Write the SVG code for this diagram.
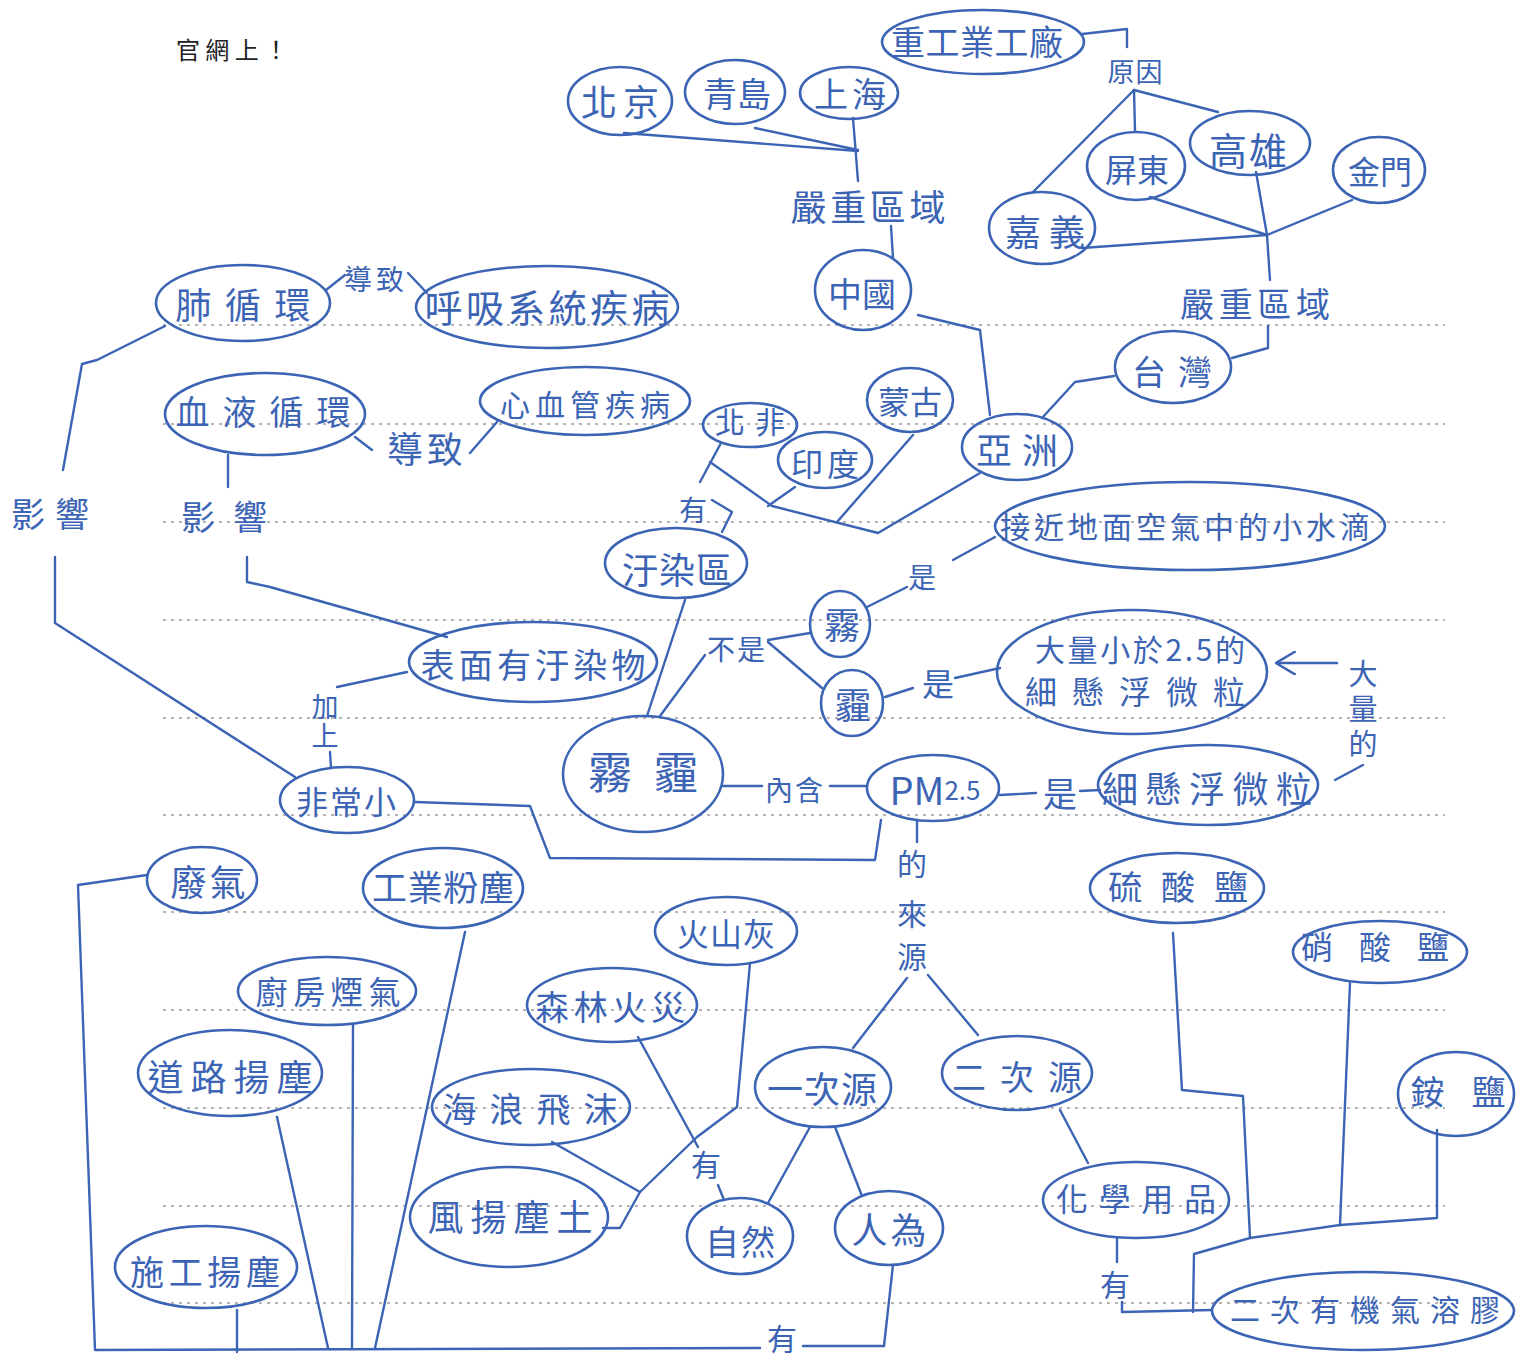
<svg xmlns="http://www.w3.org/2000/svg" width="1516" height="1362" viewBox="0 0 1516 1362">
<defs>
<style>
.n ellipse{fill:none;stroke:#3c64b4;stroke-width:2.6}
.t{font-family:"Noto Sans CJK TC","Noto Sans CJK SC",sans-serif;fill:#3c64b4;text-anchor:middle;dominant-baseline:central}
.v{writing-mode:vertical-rl}
.c path{fill:none;stroke:#3c64b4;stroke-width:2.4;stroke-linecap:round;stroke-linejoin:round}
.rule{stroke:#9c9c9c;stroke-width:1.5;stroke-dasharray:3 5}
</style>
<marker id="ah" viewBox="0 0 20 24" refX="20" refY="12" markerWidth="20" markerHeight="24" markerUnits="userSpaceOnUse" orient="auto">
<path d="M0,0 L20,12 L0,24" fill="none" stroke="#3c64b4" stroke-width="2.4"/>
</marker>
</defs>
<rect width="1516" height="1362" fill="#ffffff"/>
<g id="rules">
<line class="rule" x1="163" y1="325" x2="1445" y2="325"/>
<line class="rule" x1="163" y1="424" x2="1445" y2="424"/>
<line class="rule" x1="163" y1="522" x2="1445" y2="522"/>
<line class="rule" x1="163" y1="620" x2="1445" y2="620"/>
<line class="rule" x1="163" y1="718" x2="1445" y2="718"/>
<line class="rule" x1="163" y1="815" x2="1445" y2="815"/>
<line class="rule" x1="163" y1="912" x2="1445" y2="912"/>
<line class="rule" x1="163" y1="1010" x2="1445" y2="1010"/>
<line class="rule" x1="163" y1="1108" x2="1445" y2="1108"/>
<line class="rule" x1="163" y1="1206" x2="1445" y2="1206"/>
<line class="rule" x1="163" y1="1303" x2="1445" y2="1303"/>
</g>
<text x="232" y="48" style="font-family:'Noto Sans CJK TC','Noto Sans CJK SC',sans-serif;font-size:24px;fill:#222;text-anchor:middle;dominant-baseline:central" textLength="112">官網上！</text>
<g id="connectors" class="c">
<path d="M1082,34 L1127,29 L1127,47"/>
<path d="M1134,90 L1033,192"/>
<path d="M1134,90 L1135,131"/>
<path d="M1134,90 L1218,112"/>
<path d="M1256,172 L1267,235"/>
<path d="M1150,197 L1267,235"/>
<path d="M1082,248 L1267,235"/>
<path d="M1352,200 L1267,235"/>
<path d="M1267,235 L1270,280"/>
<path d="M1268,326 L1268,348 L1232,358"/>
<path d="M1114,376 L1075,382 L1042,418"/>
<path d="M918,315 L980,330 L990,415"/>
<path d="M891,226 L893,258"/>
<path d="M624,133 L858,151"/>
<path d="M755,128 L858,150"/>
<path d="M853,118 L858,181"/>
<path d="M980,473 L878,533 L772,506 L710,462"/>
<path d="M913,435 L837,522"/>
<path d="M795,487 L768,506"/>
<path d="M721,443 L700,482"/>
<path d="M712,500 L732,512 L722,532"/>
<path d="M685,600 L647,716"/>
<path d="M660,716 L705,655"/>
<path d="M768,640 L810,633"/>
<path d="M768,642 L822,688"/>
<path d="M867,607 L907,587"/>
<path d="M953,560 L995,537"/>
<path d="M885,697 L913,688"/>
<path d="M955,678 L1000,668"/>
<path d="M723,786 L762,786"/>
<path d="M830,786 L867,786"/>
<path d="M1000,795 L1036,793"/>
<path d="M1080,791 L1100,790"/>
<path d="M1335,780 L1363,765"/>
<path d="M1337,663 L1276,663" marker-end="url(#ah)"/>
<path d="M415,802 L530,806 L550,858 L875,860 L881,820"/>
<path d="M917,820 L917,842"/>
<path d="M907,978 L853,1048"/>
<path d="M928,975 L978,1035"/>
<path d="M810,1127 L768,1203"/>
<path d="M835,1127 L862,1196"/>
<path d="M718,1185 L724,1200"/>
<path d="M638,1037 L698,1147"/>
<path d="M750,963 L737,1107 L697,1137 L640,1192 L620,1228 L603,1228"/>
<path d="M552,1142 L640,1192"/>
<path d="M893,1265 L884,1346 L803,1346"/>
<path d="M760,1348 L95,1350 L78,885 L147,875"/>
<path d="M237,1310 L237,1352"/>
<path d="M277,1117 L328,1348"/>
<path d="M353,1025 L352,1347"/>
<path d="M465,932 L375,1348"/>
<path d="M1060,1110 L1088,1163"/>
<path d="M1117,1238 L1117,1262"/>
<path d="M1122,1302 L1122,1312 L1212,1310"/>
<path d="M1173,933 L1182,1090 L1243,1096 L1250,1238"/>
<path d="M1350,983 L1340,1225"/>
<path d="M1437,1130 L1437,1218 L1340,1225"/>
<path d="M1340,1225 L1250,1238 L1194,1254 L1193,1312"/>
<path d="M165,326 L97,360 L82,364 L63,470"/>
<path d="M55,557 L55,623 L295,777"/>
<path d="M326,290 L345,275"/>
<path d="M408,273 L427,293"/>
<path d="M355,437 L372,450"/>
<path d="M470,453 L497,422"/>
<path d="M228,455 L228,487"/>
<path d="M247,557 L247,582 L270,587 L447,637"/>
<path d="M407,672 L337,687"/>
<path d="M330,752 L331,768"/>
</g>
<g id="edge-labels">
<text class="t" x="1135" y="70" font-size="27" textLength="55">原因</text>
<text class="t" x="868" y="205" font-size="36" textLength="155">嚴重區域</text>
<text class="t" x="1255" y="302" font-size="34" textLength="150">嚴重區域</text>
<text class="t" x="374" y="278" font-size="28" textLength="60">導致</text>
<text class="t" x="425" y="447" font-size="36" textLength="76">導致</text>
<text class="t" x="50" y="512" font-size="34" textLength="78">影響</text>
<text class="t" x="224" y="515" font-size="34" textLength="86">影響</text>
<text class="t v" x="325" y="722" font-size="27" letter-spacing="2">加上</text>
<text class="t" x="693" y="509" font-size="28">有</text>
<text class="t" x="922" y="576" font-size="28">是</text>
<text class="t" x="736" y="648" font-size="28" textLength="58">不是</text>
<text class="t" x="938" y="682" font-size="32">是</text>
<text class="t" x="794" y="789" font-size="28" textLength="58">內含</text>
<text class="t" x="1060" y="792" font-size="34">是</text>
<text class="t v" x="1363" y="712" font-size="29" letter-spacing="6">大量的</text>
<text class="t" x="912" y="862" font-size="30">的</text>
<text class="t" x="912" y="912" font-size="30">來</text>
<text class="t" x="912" y="955" font-size="30">源</text>
<text class="t" x="706" y="1163" font-size="30">有</text>
<text class="t" x="782" y="1337" font-size="30">有</text>
<text class="t" x="1115" y="1283" font-size="30">有</text>
</g>
<g id="n-heavy-industry" class="n"><ellipse cx="983" cy="42" rx="101" ry="32"/><text class="t" x="977" y="40" font-size="34" textLength="172">重工業工廠</text></g>
<g id="n-beijing" class="n"><ellipse cx="620" cy="101" rx="52" ry="34"/><text class="t" x="620" y="100" font-size="36" textLength="78">北京</text></g>
<g id="n-qingdao" class="n"><ellipse cx="735" cy="92" rx="50" ry="32"/><text class="t" x="737" y="92" font-size="34" textLength="68">青島</text></g>
<g id="n-shanghai" class="n"><ellipse cx="849" cy="93" rx="49" ry="26"/><text class="t" x="850" y="92" font-size="34" textLength="72">上海</text></g>
<g id="n-china" class="n"><ellipse cx="863" cy="290" rx="48" ry="40"/><text class="t" x="862" y="292" font-size="34" textLength="68">中國</text></g>
<g id="n-pingtung" class="n"><ellipse cx="1136" cy="166" rx="49" ry="34"/><text class="t" x="1137" y="168" font-size="32" textLength="64">屏東</text></g>
<g id="n-kaohsiung" class="n"><ellipse cx="1250" cy="143" rx="60" ry="32"/><text class="t" x="1248" y="148" font-size="38" textLength="78">高雄</text></g>
<g id="n-kinmen" class="n"><ellipse cx="1379" cy="170" rx="46" ry="33"/><text class="t" x="1380" y="170" font-size="32" textLength="64">金門</text></g>
<g id="n-chiayi" class="n"><ellipse cx="1042" cy="228" rx="53" ry="36"/><text class="t" x="1045" y="230" font-size="36" textLength="80">嘉義</text></g>
<g id="n-taiwan" class="n"><ellipse cx="1173" cy="367" rx="58" ry="36"/><text class="t" x="1172" y="370" font-size="34" textLength="80">台灣</text></g>
<g id="n-asia" class="n"><ellipse cx="1017" cy="447" rx="55" ry="33"/><text class="t" x="1017" y="448" font-size="36" textLength="82">亞洲</text></g>
<g id="n-mongolia" class="n"><ellipse cx="910" cy="400" rx="43" ry="32"/><text class="t" x="910" y="400" font-size="32" textLength="64">蒙古</text></g>
<g id="n-north-africa" class="n"><ellipse cx="750" cy="425" rx="47" ry="22"/><text class="t" x="750" y="420" font-size="30" textLength="70">北非</text></g>
<g id="n-india" class="n"><ellipse cx="825" cy="460" rx="47" ry="28"/><text class="t" x="825" y="462" font-size="32" textLength="68">印度</text></g>
<g id="n-fog-def" class="n"><ellipse cx="1190" cy="526" rx="195" ry="44"/><text class="t" x="1185" y="525" font-size="30" textLength="370">接近地面空氣中的小水滴</text></g>
<g id="n-polluted" class="n"><ellipse cx="676" cy="563" rx="71" ry="35"/><text class="t" x="677" y="568" font-size="36" textLength="110">汙染區</text></g>
<g id="n-fog" class="n"><ellipse cx="840" cy="624" rx="30" ry="33"/><text class="t" x="842" y="623" font-size="36">霧</text></g>
<g id="n-haze" class="n"><ellipse cx="852" cy="703" rx="31" ry="33"/><text class="t" x="853" y="703" font-size="36">霾</text></g>
<g id="n-haze-def" class="n"><ellipse cx="1132" cy="672" rx="135" ry="62"/><text class="t" x="1140" y="648" font-size="30" textLength="210">大量小於2.5的</text><text class="t" x="1135" y="690" font-size="32" textLength="220">細懸浮微粒</text></g>
<g id="n-surface" class="n"><ellipse cx="533" cy="662" rx="124" ry="40"/><text class="t" x="533" y="663" font-size="34" textLength="225">表面有汙染物</text></g>
<g id="n-smog" class="n"><ellipse cx="643" cy="774" rx="80" ry="58"/><text class="t" x="643" y="770" font-size="44" textLength="110">霧霾</text></g>
<g id="n-pm25" class="n"><ellipse cx="933" cy="788" rx="66" ry="33"/><text class="t" x="935" y="788" font-size="38">PM<tspan font-size="26">2.5</tspan></text></g>
<g id="n-fine-particles" class="n"><ellipse cx="1208" cy="785" rx="110" ry="40"/><text class="t" x="1207" y="787" font-size="36" textLength="210">細懸浮微粒</text></g>
<g id="n-very-small" class="n"><ellipse cx="347" cy="800" rx="67" ry="33"/><text class="t" x="346" y="800" font-size="32" textLength="100">非常小</text></g>
<g id="n-pulmonary" class="n"><ellipse cx="243" cy="303" rx="87" ry="38"/><text class="t" x="243" y="303" font-size="36" textLength="135">肺循環</text></g>
<g id="n-respiratory" class="n"><ellipse cx="547" cy="307" rx="131" ry="41"/><text class="t" x="547" y="305" font-size="38" textLength="245">呼吸系統疾病</text></g>
<g id="n-blood" class="n"><ellipse cx="265" cy="414" rx="100" ry="41"/><text class="t" x="263" y="410" font-size="34" textLength="175">血液循環</text></g>
<g id="n-cardio" class="n"><ellipse cx="585" cy="401" rx="105" ry="34"/><text class="t" x="585" y="403" font-size="30" textLength="170">心血管疾病</text></g>
<g id="n-exhaust" class="n"><ellipse cx="202" cy="880" rx="55" ry="33"/><text class="t" x="208" y="880" font-size="36" textLength="75">廢氣</text></g>
<g id="n-industrial-dust" class="n"><ellipse cx="443" cy="888" rx="80" ry="40"/><text class="t" x="443" y="885" font-size="35" textLength="142">工業粉塵</text></g>
<g id="n-kitchen" class="n"><ellipse cx="327" cy="991" rx="89" ry="34"/><text class="t" x="328" y="990" font-size="32" textLength="145">廚房煙氣</text></g>
<g id="n-road-dust" class="n"><ellipse cx="230" cy="1073" rx="92" ry="43"/><text class="t" x="230" y="1075" font-size="36" textLength="165">道路揚塵</text></g>
<g id="n-construction" class="n"><ellipse cx="206" cy="1267" rx="91" ry="41"/><text class="t" x="205" y="1270" font-size="34" textLength="150">施工揚塵</text></g>
<g id="n-sea-spray" class="n"><ellipse cx="531" cy="1107" rx="99" ry="38"/><text class="t" x="530" y="1107" font-size="34" textLength="175">海浪飛沫</text></g>
<g id="n-wind-dust" class="n"><ellipse cx="509" cy="1217" rx="99" ry="50"/><text class="t" x="510" y="1215" font-size="36" textLength="165">風揚塵土</text></g>
<g id="n-volcanic" class="n"><ellipse cx="726" cy="931" rx="71" ry="34"/><text class="t" x="726" y="932" font-size="32" textLength="98">火山灰</text></g>
<g id="n-forest-fire" class="n"><ellipse cx="612" cy="1005" rx="85" ry="37"/><text class="t" x="610" y="1005" font-size="34" textLength="150">森林火災</text></g>
<g id="n-primary" class="n"><ellipse cx="823" cy="1087" rx="68" ry="40"/><text class="t" x="822" y="1087" font-size="36" textLength="110">一次源</text></g>
<g id="n-secondary" class="n"><ellipse cx="1017" cy="1073" rx="75" ry="37"/><text class="t" x="1017" y="1075" font-size="34" textLength="130">二次源</text></g>
<g id="n-natural" class="n"><ellipse cx="740" cy="1236" rx="53" ry="38"/><text class="t" x="740" y="1240" font-size="34" textLength="70">自然</text></g>
<g id="n-human" class="n"><ellipse cx="889" cy="1228" rx="54" ry="37"/><text class="t" x="889" y="1228" font-size="36" textLength="75">人為</text></g>
<g id="n-sulfate" class="n"><ellipse cx="1177" cy="888" rx="87" ry="35"/><text class="t" x="1178" y="885" font-size="34" textLength="140">硫酸鹽</text></g>
<g id="n-nitrate" class="n"><ellipse cx="1380" cy="952" rx="87" ry="31"/><text class="t" x="1375" y="945" font-size="32" textLength="148">硝酸鹽</text></g>
<g id="n-ammonium" class="n"><ellipse cx="1456" cy="1094" rx="58" ry="42"/><text class="t" x="1458" y="1090" font-size="34" textLength="95">銨鹽</text></g>
<g id="n-chemicals" class="n"><ellipse cx="1136" cy="1200" rx="93" ry="38"/><text class="t" x="1136" y="1197" font-size="32" textLength="160">化學用品</text></g>
<g id="n-soa" class="n"><ellipse cx="1363" cy="1311" rx="151" ry="39"/><text class="t" x="1365" y="1308" font-size="30" textLength="270">二次有機氣溶膠</text></g>
</svg>
